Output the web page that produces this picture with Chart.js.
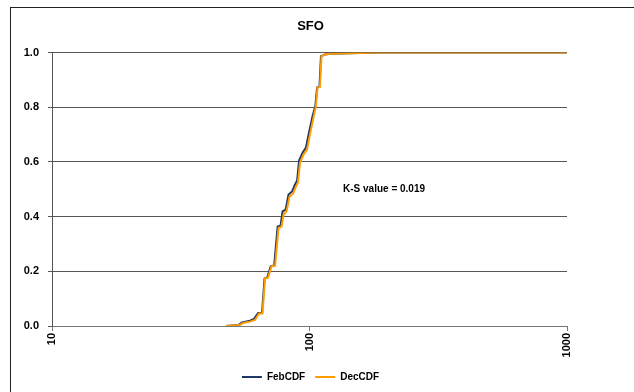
<!DOCTYPE html>
<html>
<head>
<meta charset="utf-8">
<script src="https://cdn.jsdelivr.net/npm/chart.js@4.4.1/dist/chart.umd.min.js"></script>
<style>
  html, body { margin: 0; padding: 0; background: #fff; overflow: hidden; }
  #wrap { position: relative; width: 634px; height: 392px; }
  #frame { position: absolute; left: 10px; top: 7px; width: 700px; height: 500px; border: 1px solid #222; }
  canvas { position: absolute; left: 0; top: 0; }
</style>
</head>
<body>
<div id="wrap">
  <div id="frame"></div>
  <canvas id="cdfChart" width="634" height="392"></canvas>
</div>
<script>
// CDF values (x = value on log axis, y = cumulative share)
const febX = [47.4, 53.2, 54.7, 58.2, 60.9, 63.2, 65.4, 66.9, 68.5, 70.7, 72.9, 75.2, 77.2, 78.6, 80.8, 82.9,
              85.6, 87.5, 89.5, 91.1, 94.0, 96.9, 99.5, 102.7, 105.4, 107.0, 109.3, 110.8, 114.9, 120.1, 187.8, 1000];
const febY = [0, 0.004, 0.013, 0.018, 0.026, 0.048, 0.048, 0.174, 0.177, 0.218, 0.221, 0.364, 0.367, 0.419, 0.426, 0.481,
              0.492, 0.514, 0.532, 0.605, 0.634, 0.653, 0.707, 0.766, 0.806, 0.872, 0.874, 0.987, 0.993, 0.996, 1.0, 1.0];

const decX = [47.4, 53.7, 55.2, 58.7, 61.4, 63.7, 65.7, 67.2, 69.0, 71.2, 73.5, 75.8, 77.9, 79.3, 81.4, 83.6,
              86.3, 88.2, 90.2, 91.9, 94.8, 97.8, 100.4, 103.6, 105.9, 107.4, 109.8, 111.3, 114.9, 120.1, 187.8, 1000];
const decY = [0, 0.004, 0.011, 0.016, 0.022, 0.046, 0.046, 0.174, 0.177, 0.218, 0.221, 0.358, 0.364, 0.408, 0.419, 0.473,
              0.484, 0.506, 0.525, 0.598, 0.627, 0.645, 0.700, 0.762, 0.804, 0.872, 0.874, 0.987, 0.993, 0.996, 1.0, 1.0];

const xTicks = [10, 100, 1000];
const seriesNames = ['FebCDF', 'DecCDF'];
const chartTitle = 'SFO';
const ksLabel = 'K-S value = 0.019';

const fontFamily = '"Liberation Sans", Arial, sans-serif';
const toPoints = (xs, ys) => xs.map((x, i) => ({ x: x, y: ys[i] }));

// writes the K-S note inside the plot
const ksNote = {
    id: 'ksNote',
    afterDatasetsDraw(chart) {
        const c = chart.ctx;
        const px = chart.scales.x.getPixelForValue(135);
        const py = chart.scales.y.getPixelForValue(0.5);
        c.save();
        c.font = 'bold 10px ' + fontFamily;
        c.fillStyle = '#000';
        c.textAlign = 'left';
        c.textBaseline = 'middle';
        c.fillText(ksLabel, px, py);
        c.restore();
    }
};

const ctx = document.getElementById('cdfChart').getContext('2d');

new Chart(ctx, {
    type: 'line',
    data: {
        datasets: [{
            label: seriesNames[0],
            data: toPoints(febX, febY),
            borderColor: '#1F3864',
            backgroundColor: '#1F3864',
            borderWidth: 2,
            pointRadius: 0,
            tension: 0,
            order: 1
        }, {
            label: seriesNames[1],
            data: toPoints(decX, decY),
            borderColor: '#FF9C00',
            backgroundColor: '#FF9C00',
            borderWidth: 2,
            pointRadius: 0,
            tension: 0,
            order: 0 // orange sits on top like in the original
        }]
    },
    options: {
        responsive: false,
        animation: false,
        layout: { padding: { left: 10, right: 23, top: 10, bottom: 0 } },
        plugins: {
            title: {
                display: true,
                text: chartTitle,
                color: '#000',
                font: { family: fontFamily, size: 13, weight: 'bold' },
                padding: { top: 9, bottom: 18 }
            },
            legend: {
                position: 'bottom',
                labels: {
                    color: '#000',
                    font: { family: fontFamily, size: 10, weight: 'bold' },
                    usePointStyle: true,
                    pointStyle: 'line',
                    pointStyleWidth: 20,
                    boxHeight: 10,
                    padding: 10,
                    sort: (a, b) => a.datasetIndex - b.datasetIndex
                }
            },
            tooltip: { enabled: false }
        },
        scales: {
            x: {
                type: 'logarithmic',
                min: 10,
                max: 1000,
                afterBuildTicks: axis => { axis.ticks = xTicks.map(v => ({ value: v })); },
                afterFit: scale => { scale.height = 36; },
                ticks: {
                    color: '#000',
                    font: { family: fontFamily, size: 11, weight: 'bold' },
                    minRotation: 90,
                    maxRotation: 90,
                    padding: 2,
                    callback: v => String(v)
                },
                grid: { drawOnChartArea: false, drawTicks: true, tickLength: 5, color: '#777' },
                border: { color: '#777', width: 1 }
            },
            y: {
                min: 0,
                max: 1,
                afterFit: scale => { scale.width = 42; },
                ticks: {
                    stepSize: 0.2,
                    color: '#000',
                    font: { family: fontFamily, size: 11, weight: 'bold' },
                    padding: 9,
                    callback: v => v.toFixed(1)
                },
                grid: { color: '#555', tickLength: 4 },
                border: { color: '#555', width: 1 }
            },
            // empty right-hand spacer so title and legend centre on the whole frame
            spacer: {
                position: 'right',
                min: 0,
                max: 1,
                afterFit: scale => { scale.width = 44; },
                ticks: { display: false },
                grid: { display: false },
                border: { display: false }
            }
        }
    },
    plugins: [ksNote]
});
</script>
</body>
</html>
